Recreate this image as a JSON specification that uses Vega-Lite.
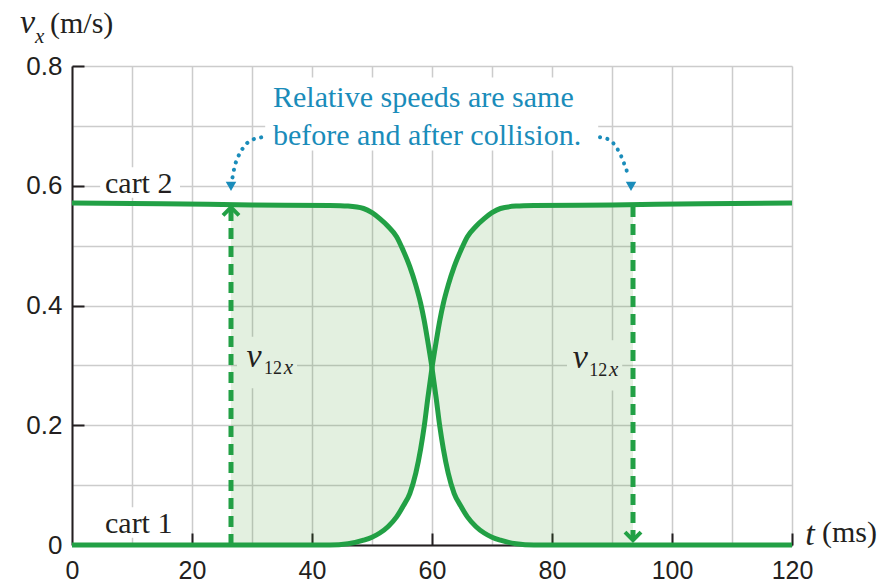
{
  "$schema": "https://vega.github.io/schema/vega-lite/v6.json",
  "width": 720,
  "height": 479,
  "autosize": {"type": "none"},
  "padding": {"left": 72, "top": 66, "right": 91, "bottom": 40},
  "background": "white",
  "config": {"view": {"stroke": null}},
  "datasets": {
    "curves": [
      {"cart": "cart 2", "t": 0, "v": 0.571}, {"cart": "cart 2", "t": 15, "v": 0.570}, {"cart": "cart 2", "t": 30, "v": 0.568},
      {"cart": "cart 2", "t": 43, "v": 0.567}, {"cart": "cart 2", "t": 46, "v": 0.566}, {"cart": "cart 2", "t": 48.6, "v": 0.562},
      {"cart": "cart 2", "t": 50, "v": 0.555}, {"cart": "cart 2", "t": 51.3, "v": 0.545}, {"cart": "cart 2", "t": 52.7, "v": 0.532},
      {"cart": "cart 2", "t": 54.1, "v": 0.515}, {"cart": "cart 2", "t": 55.2, "v": 0.492}, {"cart": "cart 2", "t": 56.3, "v": 0.465},
      {"cart": "cart 2", "t": 57.3, "v": 0.434}, {"cart": "cart 2", "t": 58.1, "v": 0.404}, {"cart": "cart 2", "t": 58.7, "v": 0.375},
      {"cart": "cart 2", "t": 59.3, "v": 0.340}, {"cart": "cart 2", "t": 60, "v": 0.296}, {"cart": "cart 2", "t": 60.7, "v": 0.245},
      {"cart": "cart 2", "t": 61.3, "v": 0.198}, {"cart": "cart 2", "t": 61.9, "v": 0.160}, {"cart": "cart 2", "t": 62.7, "v": 0.120},
      {"cart": "cart 2", "t": 63.7, "v": 0.086}, {"cart": "cart 2", "t": 64.8, "v": 0.065}, {"cart": "cart 2", "t": 65.9, "v": 0.047},
      {"cart": "cart 2", "t": 67.3, "v": 0.031}, {"cart": "cart 2", "t": 68.7, "v": 0.020}, {"cart": "cart 2", "t": 70, "v": 0.013},
      {"cart": "cart 2", "t": 71.4, "v": 0.008}, {"cart": "cart 2", "t": 74, "v": 0.002}, {"cart": "cart 2", "t": 77, "v": 0},
      {"cart": "cart 2", "t": 120, "v": 0},
      {"cart": "cart 1", "t": 0, "v": 0}, {"cart": "cart 1", "t": 43, "v": 0}, {"cart": "cart 1", "t": 46, "v": 0.002},
      {"cart": "cart 1", "t": 48.6, "v": 0.008}, {"cart": "cart 1", "t": 50, "v": 0.013}, {"cart": "cart 1", "t": 51.3, "v": 0.020},
      {"cart": "cart 1", "t": 52.7, "v": 0.031}, {"cart": "cart 1", "t": 54.1, "v": 0.047}, {"cart": "cart 1", "t": 55.2, "v": 0.065},
      {"cart": "cart 1", "t": 56.3, "v": 0.086}, {"cart": "cart 1", "t": 57.3, "v": 0.120}, {"cart": "cart 1", "t": 58.1, "v": 0.160},
      {"cart": "cart 1", "t": 58.7, "v": 0.198}, {"cart": "cart 1", "t": 59.3, "v": 0.245}, {"cart": "cart 1", "t": 60, "v": 0.296},
      {"cart": "cart 1", "t": 60.7, "v": 0.340}, {"cart": "cart 1", "t": 61.3, "v": 0.375}, {"cart": "cart 1", "t": 61.9, "v": 0.404},
      {"cart": "cart 1", "t": 62.7, "v": 0.434}, {"cart": "cart 1", "t": 63.7, "v": 0.465}, {"cart": "cart 1", "t": 64.8, "v": 0.492},
      {"cart": "cart 1", "t": 65.9, "v": 0.515}, {"cart": "cart 1", "t": 67.3, "v": 0.532}, {"cart": "cart 1", "t": 68.7, "v": 0.545},
      {"cart": "cart 1", "t": 70, "v": 0.555}, {"cart": "cart 1", "t": 71.4, "v": 0.562}, {"cart": "cart 1", "t": 74, "v": 0.566},
      {"cart": "cart 1", "t": 77, "v": 0.567}, {"cart": "cart 1", "t": 90, "v": 0.568}, {"cart": "cart 1", "t": 105, "v": 0.570},
      {"cart": "cart 1", "t": 120, "v": 0.571}
    ],
    "band": [
      {"t": 26.5, "v": 0.568, "v2": 0}, {"t": 30, "v": 0.568, "v2": 0}, {"t": 43, "v": 0.567, "v2": 0},
      {"t": 46, "v": 0.566, "v2": 0.002}, {"t": 48.6, "v": 0.562, "v2": 0.008}, {"t": 50, "v": 0.555, "v2": 0.013},
      {"t": 51.3, "v": 0.545, "v2": 0.020}, {"t": 52.7, "v": 0.532, "v2": 0.031}, {"t": 54.1, "v": 0.515, "v2": 0.047},
      {"t": 55.2, "v": 0.492, "v2": 0.065}, {"t": 56.3, "v": 0.465, "v2": 0.086}, {"t": 57.3, "v": 0.434, "v2": 0.120},
      {"t": 58.1, "v": 0.404, "v2": 0.160}, {"t": 58.7, "v": 0.375, "v2": 0.198}, {"t": 59.3, "v": 0.340, "v2": 0.245},
      {"t": 60, "v": 0.296, "v2": 0.296}, {"t": 60.7, "v": 0.340, "v2": 0.245}, {"t": 61.3, "v": 0.375, "v2": 0.198},
      {"t": 61.9, "v": 0.404, "v2": 0.160}, {"t": 62.7, "v": 0.434, "v2": 0.120}, {"t": 63.7, "v": 0.465, "v2": 0.086},
      {"t": 64.8, "v": 0.492, "v2": 0.065}, {"t": 65.9, "v": 0.515, "v2": 0.047}, {"t": 67.3, "v": 0.532, "v2": 0.031},
      {"t": 68.7, "v": 0.545, "v2": 0.020}, {"t": 70, "v": 0.555, "v2": 0.013}, {"t": 71.4, "v": 0.562, "v2": 0.008},
      {"t": 74, "v": 0.566, "v2": 0.002}, {"t": 77, "v": 0.567, "v2": 0}, {"t": 90, "v": 0.568, "v2": 0},
      {"t": 93.5, "v": 0.568, "v2": 0}
    ],
    "whiteBoxes": [
      {"t": 32.2, "t2": 87.7, "v": 0.659, "v2": 0.781},
      {"t": 4.7, "t2": 18, "v": 0.58, "v2": 0.631},
      {"t": 8, "t2": 19, "v": 0.012, "v2": 0.063}
    ],
    "greenBoxes": [
      {"t": 27.5, "t2": 37.5, "v": 0.262, "v2": 0.348},
      {"t": 82.5, "t2": 91.7, "v": 0.258, "v2": 0.342}
    ],
    "arrows": [
      {"t": 26.5, "v": 0, "v2": 0.56},
      {"t": 93.5, "v": 0.566, "v2": 0.012}
    ],
    "headsUp": [{"t": 26.5, "v": 0.564}],
    "headsDown": [{"t": 93.5, "v": 0.008}],
    "arcs": [
      {"arc": "left", "t": 26.75, "v": 0.614}, {"arc": "left", "t": 27.08, "v": 0.631}, {"arc": "left", "t": 27.67, "v": 0.648},
      {"arc": "left", "t": 28.5, "v": 0.663}, {"arc": "left", "t": 29.67, "v": 0.675}, {"arc": "left", "t": 31.67, "v": 0.681},
      {"arc": "right", "t": 88, "v": 0.681}, {"arc": "right", "t": 89.67, "v": 0.676}, {"arc": "right", "t": 90.67, "v": 0.665},
      {"arc": "right", "t": 91.5, "v": 0.650}, {"arc": "right", "t": 92.17, "v": 0.633}, {"arc": "right", "t": 92.83, "v": 0.614}
    ],
    "arcHeads": [{"t": 26.5, "v": 0.599}, {"t": 93.17, "v": 0.599}],
    "note": [
      {"t": 33.5, "v": 0.732, "label": "Relative speeds are same"},
      {"t": 33.5, "v": 0.668, "label": "before and after collision."}
    ],
    "serif": [
      {"t": 5.5, "v": 0.588, "label": "cart 2"},
      {"t": 5.5, "v": 0.0195, "label": "cart 1"},
      {"t": -3.67, "v": 0.855, "label": "(m/s)"},
      {"t": 125, "v": 0.005, "label": "(ms)"}
    ],
    "italic": [
      {"t": -8.67, "v": 0.855, "label": "v"},
      {"t": 122.2, "v": 0, "label": "t"},
      {"t": 29.1, "v": 0.298, "label": "v"},
      {"t": 83.45, "v": 0.295, "label": "v"}
    ],
    "subs": [
      {"t": 32.0, "v": 0.285, "label": "12"},
      {"t": 86.2, "v": 0.283, "label": "12"}
    ],
    "subItalic": [
      {"t": -6.17, "v": 0.839, "label": "x"},
      {"t": 35.3, "v": 0.285, "label": "x"},
      {"t": 89.5, "v": 0.283, "label": "x"}
    ]
  },
  "encoding": {
    "x": {
      "field": "t", "type": "quantitative",
      "scale": {"domain": [0, 120], "nice": false, "zero": false},
      "axis": {
        "title": null,
        "values": [0, 10, 20, 30, 40, 50, 60, 70, 80, 90, 100, 110, 120],
        "labelExpr": "datum.value % 20 === 0 ? datum.label : ''",
        "grid": true, "gridColor": "#cccccc", "gridWidth": 1.5,
        "domainColor": "#231f20", "domainWidth": 2,
        "tickColor": "#231f20", "tickWidth": 2, "tickSize": -12,
        "tickOpacity": {"condition": {"test": "datum.value % 20 === 0 && datum.value > 0", "value": 1}, "value": 0},
        "labelFont": "Liberation Sans", "labelFontSize": 25, "labelColor": "#231f20",
        "labelPadding": 25, "labelFlush": false
      }
    },
    "y": {
      "field": "v", "type": "quantitative",
      "scale": {"domain": [0, 0.8], "nice": false, "zero": false},
      "axis": {
        "title": null,
        "values": [0, 0.1, 0.2, 0.3, 0.4, 0.5, 0.6, 0.7, 0.8],
        "labelExpr": "datum.value === 0 ? '0' : (round(datum.value * 10) % 2 === 0 ? format(datum.value, '.1f') : '')",
        "grid": true, "gridColor": "#cccccc", "gridWidth": 1.5,
        "domainColor": "#231f20", "domainWidth": 2,
        "tickColor": "#231f20", "tickWidth": 2, "tickSize": -12,
        "tickOpacity": {"condition": {"test": "round(datum.value * 10) % 2 === 0 && datum.value > 0", "value": 1}, "value": 0},
        "labelFont": "Liberation Sans", "labelFontSize": 26, "labelColor": "#231f20",
        "labelPadding": 22, "labelFlush": false
      }
    }
  },
  "layer": [
    {
      "data": {"name": "band"},
      "mark": {"type": "area", "interpolate": "monotone", "color": "#3f9a2a", "opacity": 0.145},
      "encoding": {"y2": {"field": "v2"}}
    },
    {
      "data": {"name": "whiteBoxes"},
      "mark": {"type": "rect", "color": "white"},
      "encoding": {"x2": {"field": "t2"}, "y2": {"field": "v2"}}
    },
    {
      "data": {"name": "greenBoxes"},
      "mark": {"type": "rect", "color": "#e3f0e0"},
      "encoding": {"x2": {"field": "t2"}, "y2": {"field": "v2"}}
    },
    {
      "data": {"name": "curves"},
      "mark": {"type": "line", "interpolate": "monotone", "color": "#22a045", "strokeWidth": 5, "strokeCap": "butt"},
      "encoding": {"detail": {"field": "cart"}}
    },
    {
      "data": {"name": "arrows"},
      "mark": {"type": "rule", "color": "#22a045", "strokeWidth": 5, "strokeDash": [11, 7]},
      "encoding": {"y2": {"field": "v2"}}
    },
    {
      "data": {"name": "headsUp"},
      "mark": {"type": "point", "shape": "M-1,1L0,0L1,1", "size": 256, "filled": false, "stroke": "#22a045", "strokeWidth": 4, "opacity": 1},
      "encoding": {}
    },
    {
      "data": {"name": "headsDown"},
      "mark": {"type": "point", "shape": "M-1,-1L0,0L1,-1", "size": 256, "filled": false, "stroke": "#22a045", "strokeWidth": 4, "opacity": 1},
      "encoding": {}
    },
    {
      "data": {"name": "arcs"},
      "mark": {"type": "line", "interpolate": "monotone", "color": "#1a8cba", "strokeWidth": 4, "strokeDash": [0.1, 7.5], "strokeCap": "round"},
      "encoding": {"detail": {"field": "arc"}}
    },
    {
      "data": {"name": "arcHeads"},
      "mark": {"type": "point", "shape": "triangle-down", "size": 110, "filled": true, "color": "#1a8cba", "opacity": 1},
      "encoding": {}
    },
    {
      "data": {"name": "note"},
      "mark": {"type": "text", "align": "left", "baseline": "alphabetic", "font": "Liberation Serif", "fontSize": 30, "color": "#1a8cba"},
      "encoding": {"text": {"field": "label"}}
    },
    {
      "data": {"name": "serif"},
      "mark": {"type": "text", "align": "left", "baseline": "alphabetic", "font": "Liberation Serif", "fontSize": 30, "color": "#231f20"},
      "encoding": {"text": {"field": "label"}}
    },
    {
      "data": {"name": "italic"},
      "mark": {"type": "text", "align": "left", "baseline": "alphabetic", "font": "Liberation Serif", "fontStyle": "italic", "fontSize": 34, "color": "#231f20"},
      "encoding": {"text": {"field": "label"}}
    },
    {
      "data": {"name": "subs"},
      "mark": {"type": "text", "align": "left", "baseline": "alphabetic", "font": "Liberation Serif", "fontSize": 18, "color": "#231f20"},
      "encoding": {"text": {"field": "label"}}
    },
    {
      "data": {"name": "subItalic"},
      "mark": {"type": "text", "align": "left", "baseline": "alphabetic", "font": "Liberation Serif", "fontStyle": "italic", "fontSize": 21, "color": "#231f20"},
      "encoding": {"text": {"field": "label"}}
    }
  ]
}
